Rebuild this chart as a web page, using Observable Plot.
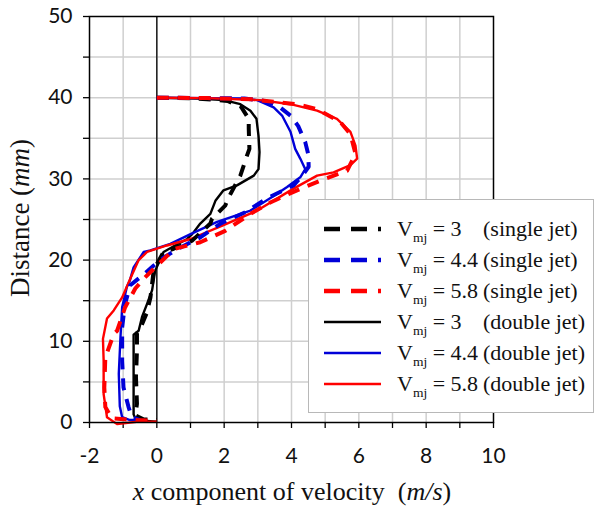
<!DOCTYPE html>
<html>
<head>
<meta charset="utf-8">
<script src="https://cdn.jsdelivr.net/npm/d3@7"></script>
<script src="https://cdn.jsdelivr.net/npm/@observablehq/plot@0.6"></script>
<style>
  body { margin: 0; background: #fff; }
  #chart { position: relative; width: 595px; height: 506px; }
  #legend {
    position: absolute; left: 308px; top: 199px; width: 284px; height: 212px;
    border: 1.5px solid #b8b8b8; background: #fff;
    font-family: "Liberation Serif", "Times New Roman", serif; font-size: 22px; color: #111;
  }
  .row { position: absolute; left: 0; width: 100%; height: 30px; }
  .row svg { position: absolute; left: 14px; top: 10px; }
  .row .v { position: absolute; left: 88px; top: 0; line-height: 30px; white-space: nowrap; }
  .row .v sub { font-size: 13.5px; vertical-align: -6px; line-height: 0; }
  .row .kind { position: absolute; left: 174px; top: 0; line-height: 30px; white-space: nowrap; }
</style>
</head>
<body>
<div id="chart"></div>
<script>
// Velocity profiles [x velocity (m/s), distance (mm)], traced from the top of the gap down to the wall
const single3 = [[0,40],[1.2,39.9],[2.1,39.6],[2.5,38.9],[2.73,37.4],[2.73,36.2],[2.75,33.7],[2.68,32.9],[2.48,30.4],[2.13,27.7],[2.03,26.7],[1.64,25.1],[1.59,24.5],[1.05,22.4],[0.5,21.4],[0.2,21],[0,19.5],[-0.1,18.5],[-0.19,15.4],[-0.3,13.5],[-0.45,12],[-0.59,11],[-0.59,8.9],[-0.62,5.6],[-0.59,2.3],[-0.64,0.9],[-0.4,0.4],[0,0.3]];
const single44 = [[0,40],[1.5,39.95],[2.6,39.9],[3.2,39.6],[3.6,39.0],[3.97,37.8],[4.2,36.5],[4.41,34.5],[4.5,33.0],[4.51,31.5],[4.3,30.3],[4.06,29.2],[3.27,27.6],[2.63,25.9],[1.89,24.5],[1.29,22.8],[1.0,22.2],[0.55,21.2],[0.2,20.3],[-0.1,19.3],[-0.4,18.2],[-0.79,16.9],[-0.95,14.5],[-1.03,11.7],[-1.03,7.6],[-0.99,4.3],[-0.84,1.9],[-0.74,0.65],[-0.5,0.3]];
const single58 = [[0,40],[1.5,39.95],[2.8,39.8],[4.16,39.2],[4.76,38.6],[5.45,37],[5.75,35.5],[5.85,33.9],[5.9,33.1],[5.65,31],[4.86,29.8],[4.06,28.4],[3.37,27.1],[2.78,25.7],[2.03,23.6],[1.29,22.2],[0.55,21.4],[0.3,20.5],[0,19.3],[-0.39,17.7],[-0.64,16.5],[-0.94,14.2],[-1.18,11.3],[-1.28,10.9],[-1.53,8],[-1.56,4.3],[-1.53,1.9],[-1.33,0.5],[-0.6,0.3],[0,0.2]];
const double3 = [[0,40],[1.2,39.9],[2.0,39.7],[2.48,39.2],[2.78,38.4],[2.96,37.4],[3.02,35.3],[3.05,33.3],[3.02,31.2],[2.88,30.4],[2.38,29.2],[1.98,28.6],[1.74,27.3],[1.59,25.7],[1.29,24.5],[1.05,23.2],[0.9,22.6],[0.5,21.7],[0.2,21.0],[0.05,19.6],[-0.05,18.7],[-0.14,16.3],[-0.29,14.6],[-0.44,13.0],[-0.54,11.3],[-0.69,10.8],[-0.69,6],[-0.69,1],[-0.62,0.3],[-0.3,0.2],[0,0.1]];
const double44 = [[0,40],[1.5,39.95],[2.5,39.9],[2.98,39.7],[3.47,38.8],[3.72,37.8],[3.97,35.8],[4.11,33.7],[4.26,32.5],[4.41,31.2],[4.26,30.2],[3.87,29],[3.47,27.9],[2.78,26.1],[1.79,24.7],[1.0,23.2],[0.4,22.0],[-0.19,21.2],[-0.39,21.0],[-0.69,19.1],[-0.8,17.5],[-0.89,16.7],[-1.03,14.2],[-1.08,10.5],[-1.13,6],[-1.1,2],[-1.03,0.65],[-0.8,0.3],[-0.5,0.3]];
const double58 = [[0,40],[1.5,39.95],[3.07,39.7],[3.97,39.2],[4.76,38.4],[5.35,37.4],[5.75,35.8],[5.9,34.1],[5.95,32.5],[5.75,31.7],[5.25,30.8],[4.76,30.4],[4.06,28.8],[2.98,26.1],[1.98,24.3],[1.0,22.6],[0.3,21.8],[-0.29,21.0],[-0.54,20],[-0.79,17.7],[-1.03,15.4],[-1.28,13.8],[-1.48,12.8],[-1.6,10.3],[-1.58,7.6],[-1.58,3.5],[-1.48,0.65],[-1.18,-0.2],[-0.6,0.1],[0,0.1]];

const velocities = ["3", "4.4", "5.8"];
const jetKinds = ["single jet", "double jet"];
const xTicks = [-2, 0, 2, 4, 6, 8, 10];
const yTicks = [0, 10, 20, 30, 40, 50];

const colors = ["#000000", "#0000d8", "#ff0000"];
const series = [
  {data: single3,  v: 0, kind: 0},
  {data: single44, v: 1, kind: 0},
  {data: single58, v: 2, kind: 0},
  {data: double3,  v: 0, kind: 1},
  {data: double44, v: 1, kind: 1},
  {data: double58, v: 2, kind: 1}
];
const toRows = d => d.map(([x, y]) => ({x, y}));

// solid (double jet) lines underneath, thick dashed (single jet) lines on top
const lineMarks = [3, 4, 5, 0, 1, 2].map(i => {
  const s = series[i];
  const dashed = s.kind === 0;
  return Plot.line(toRows(s.data), {
    x: "x", y: "y", curve: "linear",
    stroke: colors[s.v],
    strokeWidth: dashed ? 4 : 2.4,
    strokeDasharray: dashed ? "12,9" : null,
    strokeLinecap: "butt", strokeLinejoin: "round"
  });
});

const plot = Plot.plot({
  width: 595, height: 506,
  marginLeft: 89, marginRight: 102, marginTop: 16, marginBottom: 84,
  style: {fontFamily: "Lato, 'Open Sans', sans-serif", fontSize: "21px", color: "#111", background: "#fff"},
  x: {domain: [-2, 10]},
  y: {domain: [0, 50]},
  marks: [
    Plot.gridX(d3.range(-1, 10, 1), {stroke: "#cfcfcf", strokeOpacity: 1, strokeWidth: 1.5}),
    Plot.gridY(d3.range(5, 50, 5), {stroke: "#cfcfcf", strokeOpacity: 1, strokeWidth: 1.5}),
    Plot.ruleX([0], {stroke: "#000", strokeWidth: 1.3}),
    Plot.axisX(d3.range(-2, 11, 1), {tickSize: 6, tickFormat: () => "", label: null, stroke: "#000", strokeWidth: 1.3}),
    Plot.axisX(xTicks, {tickSize: 0, tickPadding: 26, tickFormat: d => String(d), label: null}),
    Plot.axisY(d3.range(0, 51, 5), {tickSize: 6, tickFormat: () => "", label: null, stroke: "#000", strokeWidth: 1.3}),
    Plot.axisY(yTicks, {tickSize: 0, tickPadding: 17, tickFormat: d => String(d), label: null}),
    ...lineMarks,
    Plot.frame({stroke: "#000", strokeWidth: 1.5})
  ]
});

const svg = d3.select(plot);
const serif = "'Liberation Serif', 'Times New Roman', serif";
// x axis title
const xt = svg.append("text")
  .attr("x", 292).attr("y", 500)
  .attr("text-anchor", "middle")
  .attr("font-family", serif).attr("font-size", 26).attr("fill", "#111");
xt.append("tspan").attr("font-style", "italic").text("x");
xt.append("tspan").text(" component of velocity\u2002(");
xt.append("tspan").attr("font-style", "italic").text("m/s");
xt.append("tspan").text(")");
// y axis title
const yt = svg.append("text")
  .attr("transform", "translate(29,218) rotate(-90)")
  .attr("text-anchor", "middle")
  .attr("font-family", serif).attr("font-size", 27).attr("fill", "#111");
yt.append("tspan").text("Distance (");
yt.append("tspan").attr("font-style", "italic").text("mm");
yt.append("tspan").text(")");

const chart = document.getElementById("chart");
chart.appendChild(plot);

// legend box
const legend = document.createElement("div");
legend.id = "legend";
const rowTops = [14, 45, 76, 107, 138, 169];
series.forEach((s, i) => {
  const row = document.createElement("div");
  row.className = "row";
  row.style.top = rowTops[i] + "px";
  const dashed = s.kind === 0;
  row.innerHTML =
    `<svg width="60" height="10"><line x1="1" x2="58" y1="5" y2="5" stroke="${colors[s.v]}" stroke-width="${dashed ? 4.5 : 2.6}" ${dashed ? 'stroke-dasharray="16,11"' : ""}/></svg>` +
    `<span class="v">V<sub>mj</sub> = ${velocities[s.v]}</span>` +
    `<span class="kind">(${jetKinds[s.kind]})</span>`;
  legend.appendChild(row);
});
chart.appendChild(legend);
</script>
</body>
</html>
